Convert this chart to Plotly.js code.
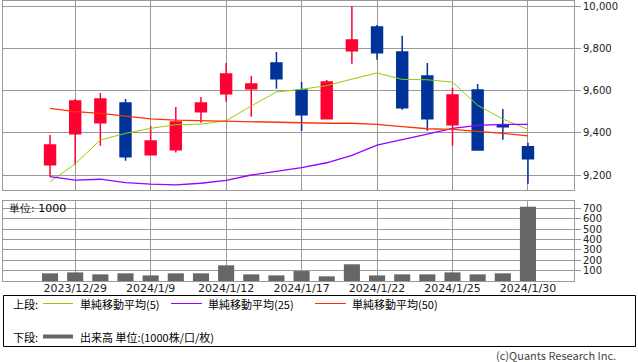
<!DOCTYPE html>
<html>
<head>
<meta charset="utf-8">
<script src="https://cdn.plot.ly/plotly-3.0.1.min.js"></script>
<style>html,body{margin:0;padding:0;background:#fff;}#chart{width:638px;height:362px;}</style>
</head>
<body>
<div id="chart"></div>
<script>
// ---- data ----
const dates = ['2023/12/28','2023/12/29','2024/1/4','2024/1/5','2024/1/9','2024/1/10','2024/1/11','2024/1/12','2024/1/15','2024/1/16',
               '2024/1/17','2024/1/18','2024/1/19','2024/1/22','2024/1/23','2024/1/24','2024/1/25','2024/1/26','2024/1/29','2024/1/30'];
const openP  = [9249,9395,9448,9541,9296,9320,9500,9585,9609,9730,9602,9466,9788,9901,9782,9669,9438,9602,9438,9334];
const highP  = [9389,9560,9588,9560,9432,9522,9569,9730,9669,9782,9640,9650,10000,9910,9859,9730,9613,9631,9512,9353];
const lowP   = [9192,9249,9339,9268,9296,9306,9448,9547,9476,9609,9408,9466,9727,9746,9509,9410,9339,9318,9367,9159];
const closeP = [9342,9550,9560,9287,9361,9451,9541,9678,9631,9656,9485,9640,9839,9779,9519,9466,9579,9318,9429,9277];
const ma5    = [9168,9253,9366,9397,9421,9438,9441,9457,9527,9593,9606,9623,9654,9683,9653,9651,9640,9530,9465,9416];
const ma25   = [9192,9176,9180,9164,9157,9153,9161,9175,9200,9216,9235,9258,9293,9341,9366,9394,9421,9435,9440,9440];
const ma50   = [9516,9500,9492,9478,9466,9460,9457,9454,9451,9449,9445,9445,9445,9440,9429,9419,9416,9407,9397,9385];
const volume = [74,83,64,74,54,74,74,151,64,54,96,45,161,54,64,64,83,64,74,715];
const tickLabels = ['2023/12/29','2024/1/9','2024/1/12','2024/1/17','2024/1/22','2024/1/25','2024/1/30'];
const priceTicks = [9200,9400,9600,9800,10000];
const volTicks = [100,200,300,400,500,600,700];
const legendTop = ['単純移動平均(5)','単純移動平均(25)','単純移動平均(50)'];
const legendBottom = '出来高 単位:(1000株/口/枚)';
const unitLabel = '単位: 1000';
const copyright = '(c)Quants Research Inc.';

// ---- styles ----
const RED = '#ff0033', BLUE = '#003399', GREEN = '#99cc00', PURPLE = '#9900ff', ORANGE = '#ff3300', GRAY = '#666666';
const GRID = '#999999';
const W = 638, H = 362, ML = 3, MR = 64, MT = 1, MB = 81;
const PW = W - ML - MR, PH = H - MT - MB;
const px = x => (x - ML) / PW;
const py = y => (H - MB - y) / PH;

const traces = [
  {type:'candlestick', x:dates, open:openP, high:highP, low:lowP, close:closeP, xaxis:'x', yaxis:'y',
   increasing:{line:{color:RED,width:1.5}, fillcolor:RED},
   decreasing:{line:{color:BLUE,width:1.5}, fillcolor:BLUE},
   whiskerwidth:0, hoverinfo:'skip'},
  {type:'scatter', mode:'lines', x:dates, y:ma5, line:{color:GREEN,width:1}, xaxis:'x', yaxis:'y', hoverinfo:'skip'},
  {type:'scatter', mode:'lines', x:dates, y:ma25, line:{color:PURPLE,width:1.3}, xaxis:'x', yaxis:'y', hoverinfo:'skip'},
  {type:'scatter', mode:'lines', x:dates, y:ma50, line:{color:ORANGE,width:1.3}, xaxis:'x', yaxis:'y', hoverinfo:'skip'},
  {type:'bar', x:dates, y:volume, marker:{color:GRAY, line:{width:0}}, width:0.64, xaxis:'x2', yaxis:'y2', hoverinfo:'skip'}
];

const axBase = {showline:true, mirror:true, linecolor:GRID, linewidth:1, showgrid:true, gridcolor:GRID, gridwidth:1, zeroline:false, fixedrange:true};
const tickFontY = {family:'DejaVu Sans', size:10, color:'#222'};

const shapes = [
  {type:'rect', xref:'paper', yref:'paper', x0:px(3.5), x1:px(635.5), y0:py(295.5), y1:py(346.5), line:{color:'#000',width:1}, fillcolor:'rgba(0,0,0,0)'},
  {type:'line', xref:'paper', yref:'paper', x0:px(43), x1:px(73), y0:py(303.5), y1:py(303.5), line:{color:GREEN,width:1}},
  {type:'line', xref:'paper', yref:'paper', x0:px(171), x1:px(202), y0:py(303.5), y1:py(303.5), line:{color:PURPLE,width:1}},
  {type:'line', xref:'paper', yref:'paper', x0:px(315), x1:px(346), y0:py(303.5), y1:py(303.5), line:{color:ORANGE,width:1}},
  {type:'line', xref:'paper', yref:'paper', x0:px(43), x1:px(73), y0:py(336.5), y1:py(336.5), line:{color:GRAY,width:4}}
];
const jf = {family:'Noto Sans CJK JP', size:11, color:'#000'};
const ann = (x, y, text, anchor, font) => ({xref:'paper', yref:'paper', x:px(x), y:py(y), text:text, showarrow:false, xanchor:anchor||'left', yanchor:'middle', font:font||jf});
const annotations = [
  ann(11, 303.5, '上段:'),
  ann(78, 303.5, legendTop[0]),
  ann(206, 303.5, legendTop[1]),
  ann(350, 303.5, legendTop[2]),
  ann(11, 336.5, '下段:'),
  ann(78, 336.5, legendBottom),
  ann(7, 208, unitLabel, 'left', {family:'DejaVu Sans', size:11, color:'#000'}),
  ann(618, 355, copyright, 'right', {family:'Noto Sans CJK JP', size:11, color:'#444'})
];

const layout = {
  width:W, height:H, margin:{l:ML, r:MR, t:MT, b:MB, pad:0},
  paper_bgcolor:'#fff', plot_bgcolor:'#fff', showlegend:false,
  boxgap:0.38, bargap:0.36, hovermode:false,
  xaxis:Object.assign({}, axBase, {type:'category', anchor:'y', domain:[0,1], range:[-1.87,20.83],
        rangeslider:{visible:false}, tickvals:tickLabels, showticklabels:false, ticks:''}),
  yaxis:Object.assign({}, axBase, {anchor:'x', domain:[py(190),1], side:'right', range:[9129,10024],
        tickvals:priceTicks, tickformat:',d', ticks:'outside', ticklen:6, tickcolor:GRID, tickfont:tickFontY}),
  xaxis2:Object.assign({}, axBase, {type:'category', anchor:'y2', matches:'x', domain:[0,1],
        tickvals:tickLabels, ticktext:tickLabels, ticks:'', tickangle:0, ticklabelstandoff:-3,
        tickfont:{family:'DejaVu Sans', size:11, color:'#222'}}),
  yaxis2:Object.assign({}, axBase, {anchor:'x2', domain:[0,py(201)], side:'right', range:[0,771],
        tickvals:volTicks, ticks:'outside', ticklen:6, tickcolor:GRID, tickfont:tickFontY}),
  shapes:shapes, annotations:annotations
};

Plotly.newPlot('chart', traces, layout, {staticPlot:true, displayModeBar:false});
</script>
</body>
</html>
